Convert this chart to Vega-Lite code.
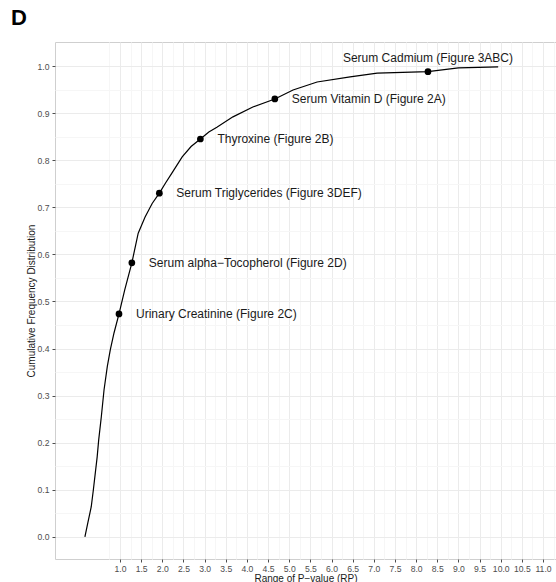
{
  "$schema": "https://vega.github.io/schema/vega-lite/v6.json",
  "width": 501,
  "height": 517,
  "autosize": {"type": "none"},
  "padding": {"left": 55, "top": 42, "right": 0, "bottom": 23},
  "background": "white",
  "title": {
    "text": "D",
    "anchor": "start",
    "frame": "group",
    "dx": -44,
    "offset": 12,
    "font": "Liberation Sans",
    "fontSize": 22,
    "fontWeight": "bold",
    "color": "black"
  },
  "config": {
    "view": {"stroke": "#cfcfcf", "strokeWidth": 1},
    "font": "Liberation Sans"
  },
  "datasets": {
    "curve": [
      {"rp": 0.17, "cfd": 0.0},
      {"rp": 0.24, "cfd": 0.03},
      {"rp": 0.32, "cfd": 0.064},
      {"rp": 0.37, "cfd": 0.1},
      {"rp": 0.416, "cfd": 0.136},
      {"rp": 0.46, "cfd": 0.17},
      {"rp": 0.496, "cfd": 0.206},
      {"rp": 0.558, "cfd": 0.255},
      {"rp": 0.622, "cfd": 0.312},
      {"rp": 0.7, "cfd": 0.362},
      {"rp": 0.77, "cfd": 0.397},
      {"rp": 0.858, "cfd": 0.433},
      {"rp": 0.976, "cfd": 0.4735},
      {"rp": 1.11, "cfd": 0.524},
      {"rp": 1.28, "cfd": 0.582},
      {"rp": 1.43, "cfd": 0.645},
      {"rp": 1.59, "cfd": 0.679},
      {"rp": 1.76, "cfd": 0.708},
      {"rp": 1.93, "cfd": 0.73},
      {"rp": 2.08, "cfd": 0.752},
      {"rp": 2.23, "cfd": 0.773},
      {"rp": 2.47, "cfd": 0.807},
      {"rp": 2.68, "cfd": 0.829},
      {"rp": 2.9, "cfd": 0.845},
      {"rp": 3.1, "cfd": 0.86},
      {"rp": 3.29, "cfd": 0.87},
      {"rp": 3.67, "cfd": 0.892},
      {"rp": 4.14, "cfd": 0.913},
      {"rp": 4.66, "cfd": 0.93},
      {"rp": 5.09, "cfd": 0.949},
      {"rp": 5.66, "cfd": 0.966},
      {"rp": 6.44, "cfd": 0.977},
      {"rp": 7.08, "cfd": 0.985},
      {"rp": 8.28, "cfd": 0.988},
      {"rp": 9.0, "cfd": 0.996},
      {"rp": 9.94, "cfd": 0.998}
    ],
    "markers": [
      {"rp": 0.976, "cfd": 0.4735, "label": "Urinary Creatinine (Figure 2C)", "side": "right"},
      {"rp": 1.28, "cfd": 0.582, "label": "Serum alpha−Tocopherol (Figure 2D)", "side": "right"},
      {"rp": 1.93, "cfd": 0.73, "label": "Serum Triglycerides (Figure 3DEF)", "side": "right"},
      {"rp": 2.9, "cfd": 0.845, "label": "Thyroxine (Figure 2B)", "side": "right"},
      {"rp": 4.66, "cfd": 0.93, "label": "Serum Vitamin D (Figure 2A)", "side": "right"},
      {"rp": 8.28, "cfd": 0.988, "label": "Serum Cadmium (Figure 3ABC)", "side": "above"}
    ]
  },
  "encoding": {
    "x": {
      "field": "rp",
      "type": "quantitative",
      "scale": {"domain": [-0.537, 11.307], "nice": false, "zero": false},
      "axis": {
        "title": "Range of P−value (RP)",
        "values": [0.75, 1.0, 1.25, 1.5, 1.75, 2.0, 2.25, 2.5, 2.75, 3.0, 3.25, 3.5, 3.75, 4.0, 4.25, 4.5, 4.75, 5.0, 5.25, 5.5, 5.75, 6.0, 6.25, 6.5, 6.75, 7.0, 7.25, 7.5, 7.75, 8.0, 8.25, 8.5, 8.75, 9.0, 9.25, 9.5, 9.75, 10.0, 10.25, 10.5, 10.75, 11.0, 11.25],
        "format": ".1f",
        "labelExpr": "round(datum.value * 4) % 2 === 1 ? '' : datum.label",
        "labelFontSize": 8.6,
        "labelColor": "#4d4d4d",
        "labelPadding": 2,
        "labelFlush": false,
        "labelOverlap": false,
        "tickSize": 3,
        "tickColor": "#4d4d4d",
        "tickOpacity": {"condition": {"test": "round(datum.value * 4) % 2 === 1", "value": 0}, "value": 1},
        "domain": false,
        "grid": true,
        "gridColor": {"condition": {"test": "round(datum.value * 4) % 2 === 1", "value": "#f6f6f6"}, "value": "#ebebeb"},
        "gridWidth": 1,
        "titleFontSize": 10,
        "titleFontWeight": "normal",
        "titleColor": "#1a1a1a",
        "titlePadding": 1
      }
    },
    "y": {
      "field": "cfd",
      "type": "quantitative",
      "scale": {"domain": [-0.047, 1.051], "nice": false, "zero": false},
      "axis": {
        "title": "Cumulative Frequency Distribution",
        "values": [0.0, 0.05, 0.1, 0.15, 0.2, 0.25, 0.3, 0.35, 0.4, 0.45, 0.5, 0.55, 0.6, 0.65, 0.7, 0.75, 0.8, 0.85, 0.9, 0.95, 1.0],
        "format": ".1f",
        "labelExpr": "round(datum.value * 20) % 2 === 1 ? '' : datum.label",
        "labelFontSize": 8.6,
        "labelColor": "#4d4d4d",
        "labelPadding": 3,
        "labelFlush": false,
        "labelOverlap": false,
        "tickSize": 3,
        "tickColor": "#4d4d4d",
        "tickOpacity": {"condition": {"test": "round(datum.value * 20) % 2 === 1", "value": 0}, "value": 1},
        "domain": false,
        "grid": true,
        "gridColor": {"condition": {"test": "round(datum.value * 20) % 2 === 1", "value": "#f6f6f6"}, "value": "#ebebeb"},
        "gridWidth": 1,
        "titleFontSize": 10,
        "titleFontWeight": "normal",
        "titleColor": "#1a1a1a",
        "titlePadding": 1
      }
    }
  },
  "layer": [
    {
      "data": {"name": "curve"},
      "mark": {"type": "line", "color": "black", "strokeWidth": 1.2}
    },
    {
      "data": {"name": "markers"},
      "mark": {"type": "point", "filled": true, "color": "black", "opacity": 1, "size": 45}
    },
    {
      "data": {"name": "markers"},
      "transform": [{"filter": "datum.side === 'right'"}],
      "mark": {"type": "text", "align": "left", "baseline": "middle", "dx": 17, "fontSize": 12, "color": "#1a1a1a", "font": "Liberation Sans"},
      "encoding": {"text": {"field": "label"}}
    },
    {
      "data": {"name": "markers"},
      "transform": [{"filter": "datum.side === 'above'"}],
      "mark": {"type": "text", "align": "center", "baseline": "middle", "dy": -14, "fontSize": 12, "color": "#1a1a1a", "font": "Liberation Sans"},
      "encoding": {"text": {"field": "label"}}
    }
  ]
}
